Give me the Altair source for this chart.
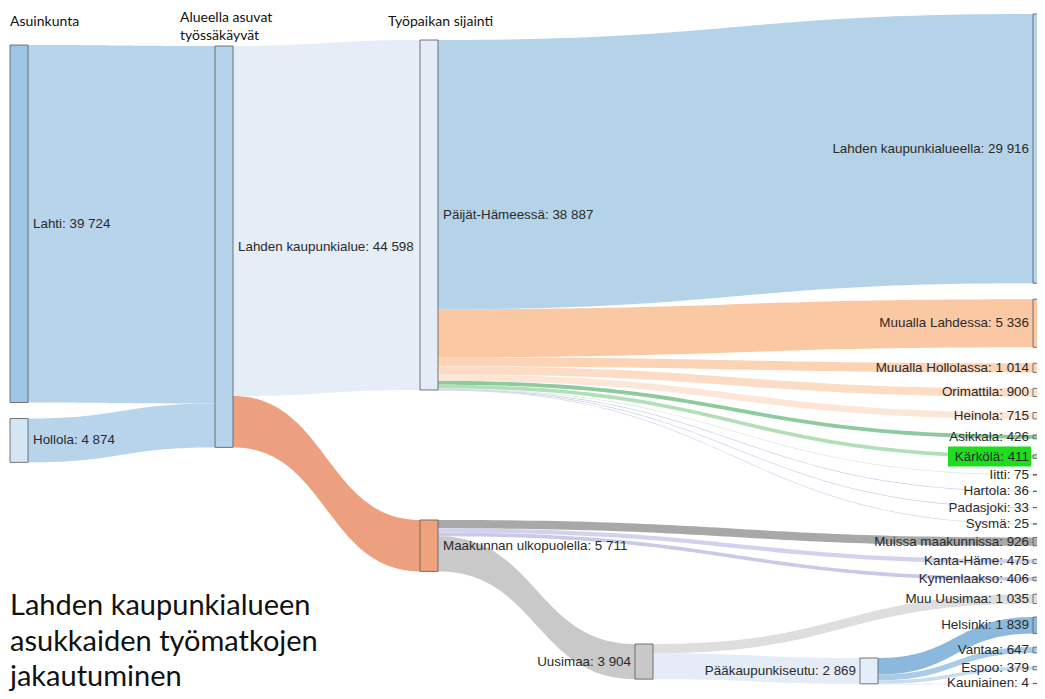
import altair as alt
import pandas as pd
import numpy as np

# ---------------- data ----------------
node_names = ["Lahti", "Hollola", "Lahden kaupunkialue", "Päijät-Hämeessä",
              "Maakunnan ulkopuolella", "Uusimaa", "Pääkaupunkiseutu",
              "Lahden kaupunkialueella", "Muualla Lahdessa", "Muualla Hollolassa",
              "Orimattila", "Heinola", "Asikkala", "Kärkölä", "Iitti", "Hartola",
              "Padasjoki", "Sysmä", "Muissa maakunnissa", "Kanta-Häme",
              "Kymenlaakso", "Muu Uusimaa", "Helsinki", "Vantaa", "Espoo", "Kauniainen"]
node_cols = [0, 0, 1, 2, 2, 3, 4] + [5] * 19
node_colors = ["#9fc5e5", "#d4e5f3", "#b5d3ea", "#e4ecf7", "#f0a27d", "#c8c8c8", "#e4edf8",
               "#b5d3ea", "#fcc9a5", "#fdd6b9", "#fde0cb", "#feebdc", "#8dcb9f", "#b3dfb8",
               "#cccccc", "#cccccc", "#cccccc", "#cccccc", "#aaaaaa", "#d5d5ef", "#cfcfea",
               "#dddddd", "#8bb9de", "#a9cbe7", "#c6dcf0", "#dfe9f5"]

link_src = ["Lahti", "Hollola", "Lahden kaupunkialue", "Lahden kaupunkialue",
            "Päijät-Hämeessä", "Päijät-Hämeessä", "Päijät-Hämeessä", "Päijät-Hämeessä",
            "Päijät-Hämeessä", "Päijät-Hämeessä", "Päijät-Hämeessä", "Päijät-Hämeessä",
            "Päijät-Hämeessä", "Päijät-Hämeessä", "Päijät-Hämeessä",
            "Maakunnan ulkopuolella", "Maakunnan ulkopuolella", "Maakunnan ulkopuolella",
            "Maakunnan ulkopuolella", "Uusimaa", "Uusimaa",
            "Pääkaupunkiseutu", "Pääkaupunkiseutu", "Pääkaupunkiseutu", "Pääkaupunkiseutu"]
link_tgt = ["Lahden kaupunkialue", "Lahden kaupunkialue", "Päijät-Hämeessä",
            "Maakunnan ulkopuolella", "Lahden kaupunkialueella", "Muualla Lahdessa",
            "Muualla Hollolassa", "Orimattila", "Heinola", "Asikkala", "Kärkölä", "Iitti",
            "Hartola", "Padasjoki", "Sysmä", "Muissa maakunnissa", "Kanta-Häme",
            "Kymenlaakso", "Uusimaa", "Muu Uusimaa", "Pääkaupunkiseutu",
            "Helsinki", "Vantaa", "Espoo", "Kauniainen"]
link_val = [39724, 4874, 38887, 5711, 29916, 5336, 1014, 900, 715, 426, 411, 75, 36, 33, 25,
            926, 475, 406, 3904, 1035, 2869, 1839, 647, 379, 4]
link_colors = ["#b7d4ea", "#b7d4ea", "#e5edf7", "#eda07f", "#b4d3e9", "#fbc8a4", "#fcd3b5",
               "#fcdcc5", "#fde6d6", "#8dcb9f", "#b3dfb8", "#d3edd5", "#cdcde6", "#cdcde6",
               "#d5d5ea", "#a8a8a8", "#d2d2ef", "#c9c9e8", "#c9c9c9", "#dedede", "#e3ecf7",
               "#8bb9de", "#a9cbe7", "#c6dcf0", "#dfe9f5"]

headers = ["Asuinkunta", "Alueella asuvat", "työssäkäyvät", "Työpaikan sijainti"]
title_lines = ["Lahden kaupunkialueen", "asukkaiden työmatkojen", "jakautuminen"]
highlight_node = "Kärkölä"

# ---------------- layout parameters ----------------
W, H = 1029, 683
col_x = [10, 215, 420, 635, 860, 1033]
col_top = [45, 46, 40, 644, 658, 14]
col_gaps = {0: [16], 1: [], 2: [130], 3: [], 4: [], 5: [16] * 10 + [13.5] * 8}
px_per = 0.009
node_w = 18
label_size = 13.4

def fmt(v):
    return f"{v:,}".replace(",", " ")

# node values
vals = {}
for s, t, v in zip(link_src, link_tgt, link_val):
    vals.setdefault(s, [0, 0]); vals.setdefault(t, [0, 0])
    vals[s][1] += v; vals[t][0] += v
node_val = {n: max(vals[n]) for n in node_names}

# node positions
pos = {}
for c in range(6):
    y = col_top[c]
    k = 0
    for n, nc in zip(node_names, node_cols):
        if nc != c:
            continue
        h = node_val[n] * px_per
        pos[n] = (col_x[c], y, y + h)
        g = col_gaps[c][k] if k < len(col_gaps[c]) else 0
        y += h + g
        k += 1

node_rows = []
for n, c, col in zip(node_names, node_cols, node_colors):
    x0, y0, y1 = pos[n]
    node_rows.append(dict(name=n, x0=x0, x1=x0 + node_w, y0=y0, y1=max(y1, y0 + 0.3),
                          fill=col, label=f"{n}: {fmt(node_val[n])}", col=c,
                          yc=(y0 + y1) / 2,
                          lx=(x0 + node_w + 5) if c <= 2 else (x0 - 4)))
nodes_df = pd.DataFrame(node_rows)

# link band offsets
center = {n: (pos[n][1] + pos[n][2]) / 2 for n in node_names}
out_off, in_off = {}, {}
for n in node_names:
    outs = sorted([i for i, s in enumerate(link_src) if s == n], key=lambda i: center[link_tgt[i]])
    y = pos[n][1]
    for i in outs:
        out_off[i] = y; y += link_val[i] * px_per
    ins = sorted([i for i, t in enumerate(link_tgt) if t == n], key=lambda i: center[link_src[i]])
    y = pos[n][1]
    for i in ins:
        in_off[i] = y; y += link_val[i] * px_per

link_rows = []
ss = np.linspace(0, 1, 60)
for i in range(len(link_src)):
    s, t = link_src[i], link_tgt[i]
    xa = pos[s][0] + node_w
    xb = pos[t][0]
    xm = (xa + xb) / 2
    h = link_val[i] * px_per
    ya, yb = out_off[i], in_off[i]
    for u in ss:
        x = xa * (1 - u) ** 3 + 3 * xm * (1 - u) ** 2 * u + 3 * xm * (1 - u) * u ** 2 + xb * u ** 3
        f = 3 * u ** 2 - 2 * u ** 3
        y = ya + (yb - ya) * f
        link_rows.append(dict(link=f"L{i:02d}", lx=float(x), ly0=float(y),
                              ly1=float(y + max(h, 0.7)), lfill=link_colors[i]))
links_df = pd.DataFrame(link_rows)

xs = alt.Scale(domain=[8, 8 + W], nice=False, zero=False)
ys = alt.Scale(domain=[8, 8 + H], nice=False, zero=False, reverse=True)

links = alt.Chart(links_df).mark_area().encode(
    x=alt.X("lx:Q", scale=xs, axis=None),
    y=alt.Y("ly0:Q", scale=ys, axis=None, stack=None),
    y2=alt.Y2("ly1:Q"),
    detail=alt.Detail("link:N"),
    color=alt.Color("lfill:N", scale=None),
)

nodes = alt.Chart(nodes_df).mark_rect(stroke="#5f5f5f", strokeWidth=1, strokeOpacity=0.85).encode(
    x=alt.X("x0:Q", scale=xs, axis=None), x2="x1:Q",
    y=alt.Y("y0:Q", scale=ys, axis=None), y2="y1:Q",
    color=alt.Color("fill:N", scale=None),
)

hl = nodes_df[nodes_df.name == highlight_node].copy()
hl["hx1"] = hl["lx"] + 2
hl["hx0"] = hl["lx"] - hl["label"].str.len() * 6.5 - 3
hl["hy0"] = hl["yc"] - 10
hl["hy1"] = hl["yc"] + 10
highlight = alt.Chart(hl).mark_rect(color="#1fdc1f").encode(
    x=alt.X("hx0:Q", scale=xs, axis=None), x2="hx1:Q",
    y=alt.Y("hy0:Q", scale=ys, axis=None), y2="hy1:Q",
)

lab_common = dict(font="Liberation Sans", fontSize=label_size, color="#2a2a2a", baseline="middle")
labels_l = alt.Chart(nodes_df[nodes_df.col <= 2]).mark_text(align="left", **lab_common).encode(
    x=alt.X("lx:Q", scale=xs, axis=None), y=alt.Y("yc:Q", scale=ys, axis=None), text="label:N")
labels_r = alt.Chart(nodes_df[nodes_df.col > 2]).mark_text(align="right", **lab_common).encode(
    x=alt.X("lx:Q", scale=xs, axis=None), y=alt.Y("yc:Q", scale=ys, axis=None), text="label:N")

head_df = pd.DataFrame(dict(text=headers, x=[10, 180, 180, 388], y=[22, 18, 36, 22]))
head = alt.Chart(head_df).mark_text(align="left", baseline="middle", font="Lato",
                                    fontSize=14, color="#111111").encode(
    x=alt.X("x:Q", scale=xs, axis=None), y=alt.Y("y:Q", scale=ys, axis=None), text="text:N")

title_df = pd.DataFrame(dict(text=title_lines, x=[10, 10, 10], y=[606, 642, 677]))
title = alt.Chart(title_df).mark_text(align="left", baseline="middle", font="Lato",
                                      fontSize=29, color="#111111").encode(
    x=alt.X("x:Q", scale=xs, axis=None), y=alt.Y("y:Q", scale=ys, axis=None), text="text:N")

chart = alt.layer(links, nodes, highlight, labels_l, labels_r, head, title).properties(
    width=W, height=H, padding=0, autosize=alt.AutoSizeParams(type="none")
).configure_view(stroke=None)

chart.save("out.html", embed_options={"renderer": "svg", "actions": False})
